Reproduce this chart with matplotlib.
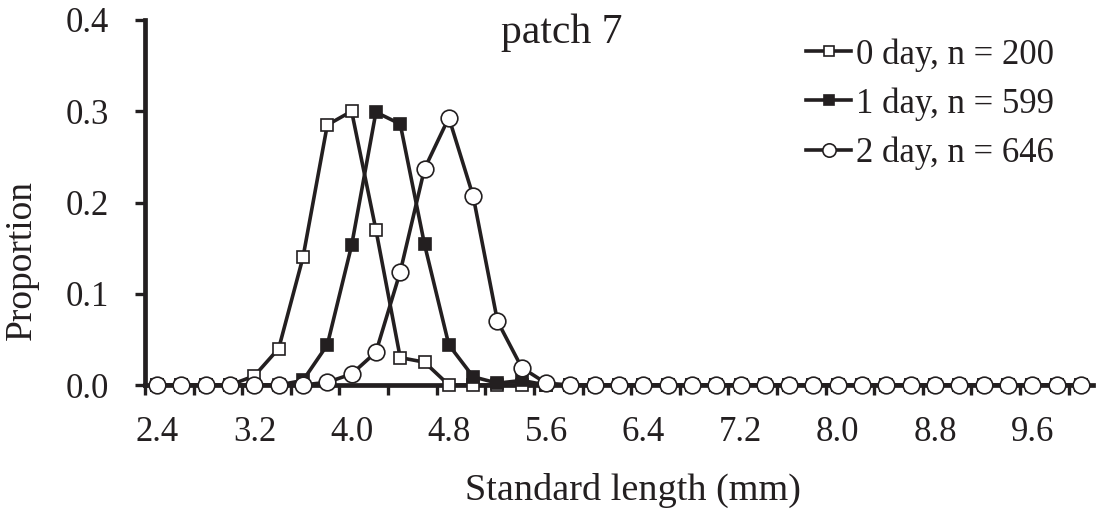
import matplotlib
matplotlib.use("Agg")
import matplotlib.pyplot as plt

plt.rcParams["font.family"] = ["Liberation Serif", "DejaVu Serif"]

# standard length classes (mm)
sizes = [2.4, 2.6, 2.8, 3.0, 3.2, 3.4, 3.6, 3.8, 4.0, 4.2,
         4.4, 4.6, 4.8, 5.0, 5.2, 5.4, 5.6, 5.8, 6.0, 6.2,
         6.4, 6.6, 6.8, 7.0, 7.2, 7.4, 7.6, 7.8, 8.0, 8.2,
         8.4, 8.6, 8.8, 9.0, 9.2, 9.4, 9.6, 9.8, 10.0]

day0 = [0, 0, 0, 0, 0.010, 0.040, 0.140, 0.285, 0.300, 0.170,
        0.030, 0.025, 0, 0, 0, 0, 0, 0, 0, 0,
        0, 0, 0, 0, 0, 0, 0, 0, 0, 0,
        0, 0, 0, 0, 0, 0, 0, 0, 0]
day1 = [0, 0, 0, 0, 0, 0, 0.005, 0.044, 0.153, 0.299,
        0.286, 0.154, 0.044, 0.009, 0.002, 0.005, 0, 0, 0, 0,
        0, 0, 0, 0, 0, 0, 0, 0, 0, 0,
        0, 0, 0, 0, 0, 0, 0, 0, 0]
day2 = [0, 0, 0, 0, 0, 0, 0, 0.003, 0.012, 0.036,
        0.124, 0.237, 0.293, 0.207, 0.070, 0.019, 0.002, 0, 0, 0,
        0, 0, 0, 0, 0, 0, 0, 0, 0, 0,
        0, 0, 0, 0, 0, 0, 0, 0, 0]

labels = ["0 day, n = 200", "1 day, n = 599", "2 day, n = 646"]

xtick_labels = [2.4, 3.2, 4.0, 4.8, 5.6, 6.4, 7.2, 8.0, 8.8, 9.6]
xtick_marks = [2.3, 2.7, 3.1, 3.5, 3.9, 4.3, 4.7, 5.1, 5.5, 5.9, 6.3, 6.7,
               7.1, 7.5, 7.9, 8.3, 8.7, 9.1, 9.5, 9.9]
yticks = [0.0, 0.1, 0.2, 0.3, 0.4]

ink = "#231f20"
W, H = 1102, 513
fig = plt.figure(figsize=(W / 100, H / 100), dpi=100)
ax = fig.add_axes([145 / W, 1 - 385 / H, 948 / W, 365 / H])

lw = 2.6
ax.plot(sizes, day0, color=ink, lw=lw, marker="s", ms=9,
        mfc="white", mec=ink, mew=1.2, clip_on=False, zorder=3,
        label=labels[0])
ax.plot(sizes, day1, color=ink, lw=lw, marker="s", ms=9,
        mfc=ink, mec=ink, mew=1.2, clip_on=False, zorder=4,
        label=labels[1])
ax.plot(sizes, day2, color=ink, lw=lw, marker="o", ms=12,
        mfc="white", mec=ink, mew=1.2, clip_on=False, zorder=5,
        label=labels[2])

ax.set_xlim(2.3, 10.1)
ax.set_ylim(0, 0.4)

for s in ["top", "right"]:
    ax.spines[s].set_visible(False)
for s in ["left", "bottom"]:
    ax.spines[s].set_linewidth(3.4)
    ax.spines[s].set_color(ink)

ax.set_yticks(yticks)
ax.set_yticklabels([f"{v:.1f}" for v in yticks])
ax.tick_params(axis="y", direction="out", length=7, width=2.4,
               color=ink, labelsize=25, pad=19, labelcolor=ink)

ax.set_xticks(xtick_labels)
ax.set_xticklabels([f"{v:.1f}" for v in xtick_labels])
ax.set_xticks(xtick_marks, minor=True)
ax.tick_params(axis="x", which="major", length=0, labelsize=25, pad=22,
               labelcolor=ink)
ax.tick_params(axis="x", which="minor", direction="out", length=7,
               width=2.4, color=ink)

fig.text(22 / W, 1 - 260 / H, "Proportion", rotation=90, ha="center",
         va="center", fontsize=27, color=ink)
fig.text(633 / W, 1 - 490 / H, "Standard length (mm)", ha="center",
         va="center", fontsize=27.5, color=ink)
fig.text(562 / W, 1 - 43 / H, "patch 7", ha="center", va="baseline",
         fontsize=30, color=ink)

leg = ax.legend(loc="upper left", bbox_to_anchor=(806 / W, 1 - 38 / H),
                bbox_transform=fig.transFigure, frameon=False, fontsize=25,
                handlelength=1.3, handletextpad=0.15, labelspacing=0.45,
                markerscale=0.8, borderpad=0, borderaxespad=0)
for t in leg.get_texts():
    t.set_color(ink)

fig.savefig("out.png", dpi=100)
